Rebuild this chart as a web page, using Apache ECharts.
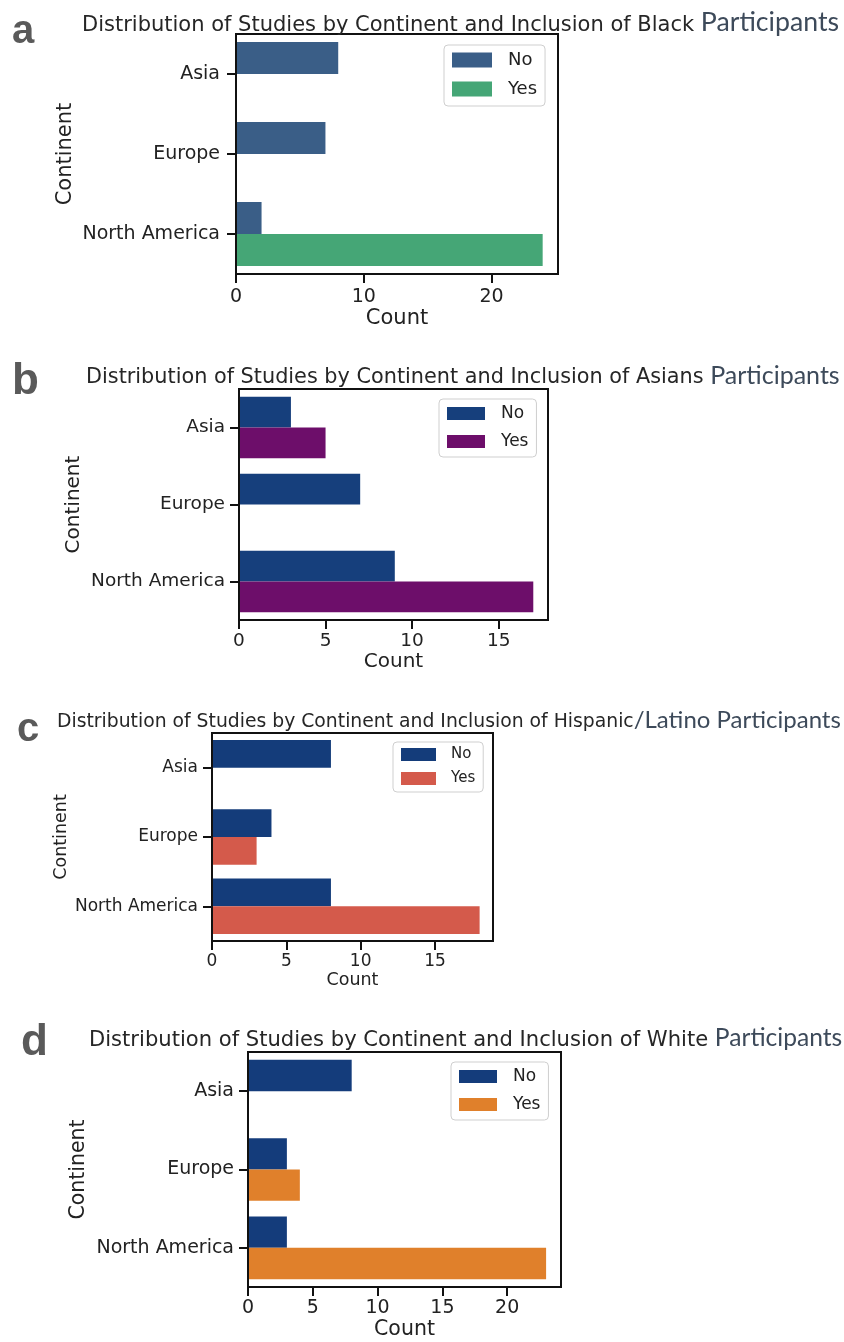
<!DOCTYPE html>
<html>
<head>
<meta charset="utf-8">
<title>Distribution of Studies by Continent</title>
<script src="https://cdn.jsdelivr.net/npm/echarts@6/dist/echarts.min.js"></script>
<style>
  html, body { margin: 0; padding: 0; background: #fff; }
  #chart { width: 844px; height: 1342px; }
</style>
</head>
<body>
<div id="chart"></div>
<script>
// ---- data ----
const continents = ['Asia', 'Europe', 'North America'];
const hueLabels = ['No', 'Yes'];

const blackNo = [8, 7, 2];
const blackYes = [0, 0, 24];
const asianNo = [3, 7, 9];
const asianYes = [5, 0, 17];
const hispanicNo = [8, 4, 8];
const hispanicYes = [0, 3, 18];
const whiteNo = [8, 3, 3];
const whiteYes = [0, 4, 23];

const ticksBlack = [0, 10, 20];
const ticksAsian = [0, 5, 10, 15];
const ticksHispanic = [0, 5, 10, 15];
const ticksWhite = [0, 5, 10, 15, 20];

const titleStem = 'Distribution of Studies by Continent and Inclusion of ';
const groupBlack = 'Black ';
const groupAsian = 'Asians ';
const groupHispanic = 'Hispanic';
const groupWhite = 'White ';
const groupHispanicTail = '/Latino Participants';
const titleTail = 'Participants';
const axisNameX = 'Count';
const axisNameY = 'Continent';
const panelLetters = ['a', 'b', 'c', 'd'];

// ---- layout / styling per panel ----
const MPL = 'DejaVu Sans';
const panels = [
  {
    key: 'a', no: blackNo, yes: blackYes, ticks: ticksBlack,
    colors: ['#3a5e87', '#45a676'],
    grid: { left: 236, top: 34, width: 322, height: 240 },
    tickFont: 19, nameFont: 21, labelMargin: 14, nameGapX: 33, nameGapY: 160,
    legend: { left: 444, top: 45, itemWidth: 40, itemHeight: 15, itemGap: 11, font: 18, textPad: 11, padding: [6, 8, 8, 8] },
    title: { left: 82, top: 9, stem: titleStem + groupBlack, tail: titleTail, font: 21, tailFont: 26.7 },
    letter: { left: 12, top: 12, font: 40 }
  },
  {
    key: 'b', no: asianNo, yes: asianYes, ticks: ticksAsian,
    colors: ['#163f7c', '#6d0e6a'],
    grid: { left: 239, top: 389, width: 309, height: 231 },
    tickFont: 18.5, nameFont: 20, labelMargin: 12, nameGapX: 31, nameGapY: 155,
    legend: { left: 439, top: 399, itemWidth: 38, itemHeight: 13, itemGap: 11, font: 17, textPad: 11, padding: [6, 8, 7, 8] },
    title: { left: 86, top: 363, stem: titleStem + groupAsian, tail: titleTail, font: 20.8, tailFont: 25 },
    letter: { left: 12, top: 360, font: 44 }
  },
  {
    key: 'c', no: hispanicNo, yes: hispanicYes, ticks: ticksHispanic,
    colors: ['#143c7a', '#d45a4b'],
    grid: { left: 212, top: 733, width: 281, height: 208 },
    tickFont: 17, nameFont: 17.5, labelMargin: 12, nameGapX: 30, nameGapY: 142,
    legend: { left: 393, top: 742, itemWidth: 35, itemHeight: 13, itemGap: 9, font: 15, textPad: 10, padding: [5, 8, 6, 8] },
    title: { left: 57, top: 708, stem: titleStem + groupHispanic, tail: groupHispanicTail, font: 18.8, tailFont: 24 },
    letter: { left: 17, top: 710, font: 40 }
  },
  {
    key: 'd', no: whiteNo, yes: whiteYes, ticks: ticksWhite,
    colors: ['#143c7b', '#e0802b'],
    grid: { left: 248, top: 1052, width: 313, height: 235 },
    tickFont: 19, nameFont: 20.5, labelMargin: 12, nameGapX: 31, nameGapY: 159,
    legend: { left: 451, top: 1062, itemWidth: 38, itemHeight: 13, itemGap: 11, font: 17, textPad: 11, padding: [6, 8, 7, 8] },
    title: { left: 89, top: 1026, stem: titleStem + groupWhite, tail: titleTail, font: 21.1, tailFont: 24.6 },
    letter: { left: 21, top: 1021, font: 44 }
  }
];

// ---- build option ----
const grid = [], xAxis = [], yAxis = [], series = [], legend = [], title = [];

panels.forEach((p, i) => {
  const maxVal = Math.max(...p.no, ...p.yes);
  grid.push(Object.assign({
    show: true, borderColor: '#111', borderWidth: 2, backgroundColor: '#fff'
  }, p.grid));

  xAxis.push({
    gridIndex: i, type: 'value', min: 0, max: maxVal * 1.05,
    axisLine: { show: false },
    splitLine: { show: false },
    axisTick: { show: true, length: 9, lineStyle: { color: '#111', width: 2 }, customValues: p.ticks },
    axisLabel: { customValues: p.ticks, fontFamily: MPL, fontSize: p.tickFont, color: '#222', margin: p.labelMargin },
    name: axisNameX, nameLocation: 'middle', nameGap: p.nameGapX,
    nameTextStyle: { fontFamily: MPL, fontSize: p.nameFont, color: '#222' }
  });

  yAxis.push({
    gridIndex: i, type: 'category', data: continents, inverse: true,
    axisLine: { show: true, lineStyle: { color: '#111', width: 2 } },
    axisTick: { show: true, alignWithLabel: true, length: 9, lineStyle: { color: '#111', width: 2 } },
    axisLabel: { fontFamily: MPL, fontSize: p.tickFont, color: '#222', margin: p.labelMargin + 2 },
    splitLine: { show: false },
    z: 5,
    name: axisNameY, nameLocation: 'middle', nameGap: p.nameGapY, nameRotate: 90,
    nameTextStyle: { fontFamily: MPL, fontSize: p.nameFont, color: '#222' }
  });

  [p.no, p.yes].forEach((vals, k) => {
    series.push({
      type: 'bar', name: p.key + '|' + hueLabels[k],
      xAxisIndex: i, yAxisIndex: i,
      data: vals,
      barGap: '0%', barCategoryGap: '20%',
      itemStyle: { color: p.colors[k] },
      silent: true
    });
  });

  const L = p.legend;
  legend.push({
    data: hueLabels.map(h => p.key + '|' + h),
    orient: 'vertical', left: L.left, top: L.top,
    itemWidth: L.itemWidth, itemHeight: L.itemHeight, itemGap: L.itemGap,
    icon: 'rect', selectedMode: false,
    padding: L.padding,
    backgroundColor: '#fff', borderColor: '#cfcfcf', borderWidth: 1, borderRadius: 4,
    formatter: name => name.split('|')[1],
    textStyle: { fontFamily: MPL, fontSize: L.font, color: '#222', padding: [0, 0, 0, L.textPad], lineHeight: L.font }
  });

  const T = p.title;
  title.push({
    text: '{m|' + T.stem + '}{p|' + T.tail + '}',
    left: T.left, top: T.top, padding: 0,
    textStyle: {
      fontWeight: 'normal',
      rich: {
        m: { fontFamily: MPL, fontWeight: 'normal', fontSize: T.font, color: '#262626', verticalAlign: 'bottom' },
        p: { fontFamily: 'Lato', fontWeight: 'normal', fontSize: T.tailFont, color: '#3d4a5a', verticalAlign: 'bottom' }
      }
    }
  });

  title.push({
    text: panelLetters[i], left: p.letter.left, top: p.letter.top, padding: 0,
    textStyle: { fontFamily: 'Liberation Sans', fontWeight: 'bold', fontSize: p.letter.font, color: '#5a5a5a' }
  });
});

const chart = echarts.init(document.getElementById('chart'), null, { renderer: 'canvas' });
chart.setOption({
  backgroundColor: '#fff',
  animation: false,
  title, grid, xAxis, yAxis, series, legend
});
</script>
</body>
</html>
